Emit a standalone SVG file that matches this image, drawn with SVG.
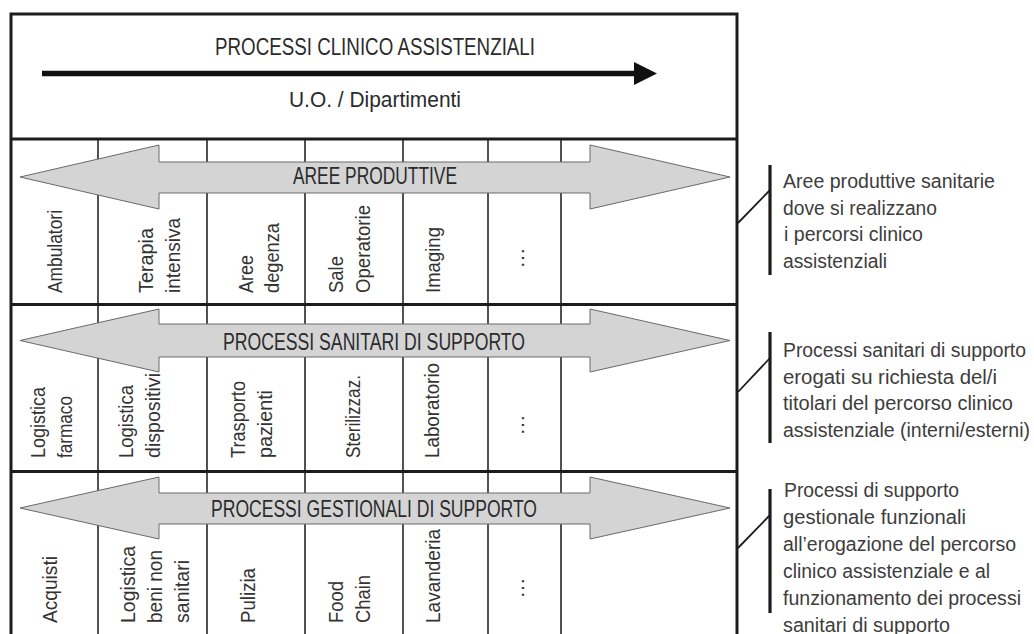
<svg xmlns="http://www.w3.org/2000/svg" width="1034" height="634" viewBox="0 0 1034 634">
  <style>
    .t { font-family: "Liberation Sans", Arial, sans-serif; fill: #2b2b2b; }
    .cap { font-size: 24px; }
    .sub { font-size: 22px; }
    .lbl { font-size: 21px; fill: #333; }
    .note { font-size: 19.5px; fill: #3d3d3d; }
    .frame { stroke: #1c1c1c; stroke-width: 3; fill: none; }
    .col { stroke: #262626; stroke-width: 1.6; }
    .band { fill: #d4d4d4; stroke: #6a6a6a; stroke-width: 1; stroke-linejoin: miter; }
    .bar { stroke: #1c1c1c; stroke-width: 3.2; }
    .lead { stroke: #1c1c1c; stroke-width: 1.8; }
  </style>
  <rect width="1034" height="634" fill="#fff"/>

  <!-- column separators (drawn under the band arrows) -->
  <g id="columns">
    <line class="col" x1="98" y1="139" x2="98" y2="634"/>
    <line class="col" x1="207" y1="139" x2="207" y2="634"/>
    <line class="col" x1="305" y1="139" x2="305" y2="634"/>
    <line class="col" x1="403" y1="139" x2="403" y2="634"/>
    <line class="col" x1="488" y1="139" x2="488" y2="634"/>
    <line class="col" x1="561" y1="139" x2="561" y2="634"/>
  </g>

  <!-- outer frame and band dividers -->
  <g id="frame">
    <polyline class="frame" points="11,634 11,14 737,14 737,634"/>
    <line class="frame" x1="11" y1="139" x2="737" y2="139"/>
    <line class="frame" x1="11" y1="304.5" x2="737" y2="304.5"/>
    <line class="frame" x1="11" y1="471.5" x2="737" y2="471.5"/>
  </g>

  <!-- header: clinical process flow -->
  <g id="header">
    <text class="t cap" x="375" y="55" text-anchor="middle" textLength="320" lengthAdjust="spacingAndGlyphs">PROCESSI CLINICO ASSISTENZIALI</text>
    <line x1="42" y1="73.5" x2="636" y2="73.5" stroke="#111" stroke-width="5.5"/>
    <polygon points="634,62 657,73.5 634,85" fill="#111"/>
    <text class="t sub" x="375" y="107" text-anchor="middle" textLength="172" lengthAdjust="spacingAndGlyphs">U.O. / Dipartimenti</text>
  </g>

  <!-- band 1: production areas -->
  <g id="band-aree">
    <polygon class="band" points="20,177 159,145 159,162 590,162 590,145 730,177 590,209 590,193 159,193 159,209"/>
    <text class="t cap" x="375" y="184" text-anchor="middle" textLength="164" lengthAdjust="spacingAndGlyphs">AREE PRODUTTIVE</text>
  </g>
  <g id="ambulatori"><text class="t lbl" transform="translate(62,293) rotate(-90)" textLength="83" lengthAdjust="spacingAndGlyphs">Ambulatori</text></g>
  <g id="terapia-intensiva">
    <text class="t lbl" transform="translate(153,293) rotate(-90)" textLength="65" lengthAdjust="spacingAndGlyphs">Terapia</text>
    <text class="t lbl" transform="translate(180,293) rotate(-90)" textLength="75" lengthAdjust="spacingAndGlyphs">intensiva</text>
  </g>
  <g id="aree-degenza">
    <text class="t lbl" transform="translate(253,293) rotate(-90)" textLength="38" lengthAdjust="spacingAndGlyphs">Aree</text>
    <text class="t lbl" transform="translate(279,293) rotate(-90)" textLength="70" lengthAdjust="spacingAndGlyphs">degenza</text>
  </g>
  <g id="sale-operatorie">
    <text class="t lbl" transform="translate(343,293) rotate(-90)" textLength="37" lengthAdjust="spacingAndGlyphs">Sale</text>
    <text class="t lbl" transform="translate(370,293) rotate(-90)" textLength="88" lengthAdjust="spacingAndGlyphs">Operatorie</text>
  </g>
  <g id="imaging"><text class="t lbl" transform="translate(440,293) rotate(-90)" textLength="66" lengthAdjust="spacingAndGlyphs">Imaging</text></g>
  <g id="altro-aree"><text class="t lbl" transform="translate(524,258) rotate(-90)" text-anchor="middle">…</text></g>

  <!-- band 2: clinical support processes -->
  <g id="band-sanitari">
    <polygon class="band" points="20,340.5 159,309 159,324 590,324 590,309 730,340.5 590,372 590,357 159,357 159,372"/>
    <text class="t cap" x="374" y="350" text-anchor="middle" textLength="302" lengthAdjust="spacingAndGlyphs">PROCESSI SANITARI DI SUPPORTO</text>
  </g>
  <g id="logistica-farmaco">
    <text class="t lbl" transform="translate(45,458) rotate(-90)" textLength="71" lengthAdjust="spacingAndGlyphs">Logistica</text>
    <text class="t lbl" transform="translate(72,458) rotate(-90)" textLength="62" lengthAdjust="spacingAndGlyphs">farmaco</text>
  </g>
  <g id="logistica-dispositivi">
    <text class="t lbl" transform="translate(133,458) rotate(-90)" textLength="73" lengthAdjust="spacingAndGlyphs">Logistica</text>
    <text class="t lbl" transform="translate(160,458) rotate(-90)" textLength="85" lengthAdjust="spacingAndGlyphs">dispositivi</text>
  </g>
  <g id="trasporto-pazienti">
    <text class="t lbl" transform="translate(245,458) rotate(-90)" textLength="77" lengthAdjust="spacingAndGlyphs">Trasporto</text>
    <text class="t lbl" transform="translate(272,458) rotate(-90)" textLength="68" lengthAdjust="spacingAndGlyphs">pazienti</text>
  </g>
  <g id="sterilizzazione"><text class="t lbl" transform="translate(360,458) rotate(-90)" textLength="83" lengthAdjust="spacingAndGlyphs">Sterilizzaz.</text></g>
  <g id="laboratorio"><text class="t lbl" transform="translate(439,458) rotate(-90)" textLength="95" lengthAdjust="spacingAndGlyphs">Laboratorio</text></g>
  <g id="altro-sanitari"><text class="t lbl" transform="translate(524,425) rotate(-90)" text-anchor="middle">…</text></g>

  <!-- band 3: management support processes -->
  <g id="band-gestionali">
    <polygon class="band" points="20,508 159,477 159,493 590,493 590,477 730,508 590,539 590,524 159,524 159,539"/>
    <text class="t cap" x="374" y="517" text-anchor="middle" textLength="326" lengthAdjust="spacingAndGlyphs">PROCESSI GESTIONALI DI SUPPORTO</text>
  </g>
  <g id="acquisti"><text class="t lbl" transform="translate(57,623) rotate(-90)" textLength="67" lengthAdjust="spacingAndGlyphs">Acquisti</text></g>
  <g id="logistica-beni">
    <text class="t lbl" transform="translate(135,623) rotate(-90)" textLength="77" lengthAdjust="spacingAndGlyphs">Logistica</text>
    <text class="t lbl" transform="translate(162,623) rotate(-90)" textLength="73" lengthAdjust="spacingAndGlyphs">beni non</text>
    <text class="t lbl" transform="translate(189,623) rotate(-90)" textLength="63" lengthAdjust="spacingAndGlyphs">sanitari</text>
  </g>
  <g id="pulizia"><text class="t lbl" transform="translate(255,623) rotate(-90)" textLength="55" lengthAdjust="spacingAndGlyphs">Pulizia</text></g>
  <g id="food-chain">
    <text class="t lbl" transform="translate(343,623) rotate(-90)" textLength="42" lengthAdjust="spacingAndGlyphs">Food</text>
    <text class="t lbl" transform="translate(370,623) rotate(-90)" textLength="48" lengthAdjust="spacingAndGlyphs">Chain</text>
  </g>
  <g id="lavanderia"><text class="t lbl" transform="translate(440,623) rotate(-90)" textLength="94" lengthAdjust="spacingAndGlyphs">Lavanderia</text></g>
  <g id="altro-gestionali"><text class="t lbl" transform="translate(524,588) rotate(-90)" text-anchor="middle">…</text></g>

  <!-- leader lines from the frame to the side notes -->
  <g id="connectors">
    <line class="lead" x1="738" y1="223" x2="770" y2="190"/>
    <line class="bar" x1="770" y1="165" x2="770" y2="275"/>
    <line class="lead" x1="738" y1="392" x2="770" y2="358"/>
    <line class="bar" x1="770" y1="332" x2="770" y2="443"/>
    <line class="lead" x1="738" y1="548" x2="770" y2="515"/>
    <line class="bar" x1="770" y1="489" x2="770" y2="613"/>
  </g>

  <!-- side notes -->
  <g id="note-aree">
    <text class="t note" x="783" y="188" textLength="212" lengthAdjust="spacingAndGlyphs">Aree produttive sanitarie</text>
    <text class="t note" x="783" y="214.5" textLength="154" lengthAdjust="spacingAndGlyphs">dove si realizzano</text>
    <text class="t note" x="784" y="241" textLength="139" lengthAdjust="spacingAndGlyphs">i percorsi clinico</text>
    <text class="t note" x="783" y="267.5" textLength="104" lengthAdjust="spacingAndGlyphs">assistenziali</text>
  </g>
  <g id="note-sanitari">
    <text class="t note" x="783" y="357" textLength="243" lengthAdjust="spacingAndGlyphs">Processi sanitari di supporto</text>
    <text class="t note" x="783" y="383.5" textLength="214" lengthAdjust="spacingAndGlyphs">erogati su richiesta del/i</text>
    <text class="t note" x="783" y="410" textLength="230" lengthAdjust="spacingAndGlyphs">titolari del percorso clinico</text>
    <text class="t note" x="783" y="436.5" textLength="247" lengthAdjust="spacingAndGlyphs">assistenziale (interni/esterni)</text>
  </g>
  <g id="note-gestionali">
    <text class="t note" x="784" y="497" textLength="175" lengthAdjust="spacingAndGlyphs">Processi di supporto</text>
    <text class="t note" x="783" y="524" textLength="183" lengthAdjust="spacingAndGlyphs">gestionale funzionali</text>
    <text class="t note" x="783" y="551" textLength="233" lengthAdjust="spacingAndGlyphs">all’erogazione del percorso</text>
    <text class="t note" x="783" y="578" textLength="207" lengthAdjust="spacingAndGlyphs">clinico assistenziale e al</text>
    <text class="t note" x="783" y="605" textLength="238" lengthAdjust="spacingAndGlyphs">funzionamento dei processi</text>
    <text class="t note" x="783" y="632" textLength="167" lengthAdjust="spacingAndGlyphs">sanitari di supporto</text>
  </g>
</svg>
